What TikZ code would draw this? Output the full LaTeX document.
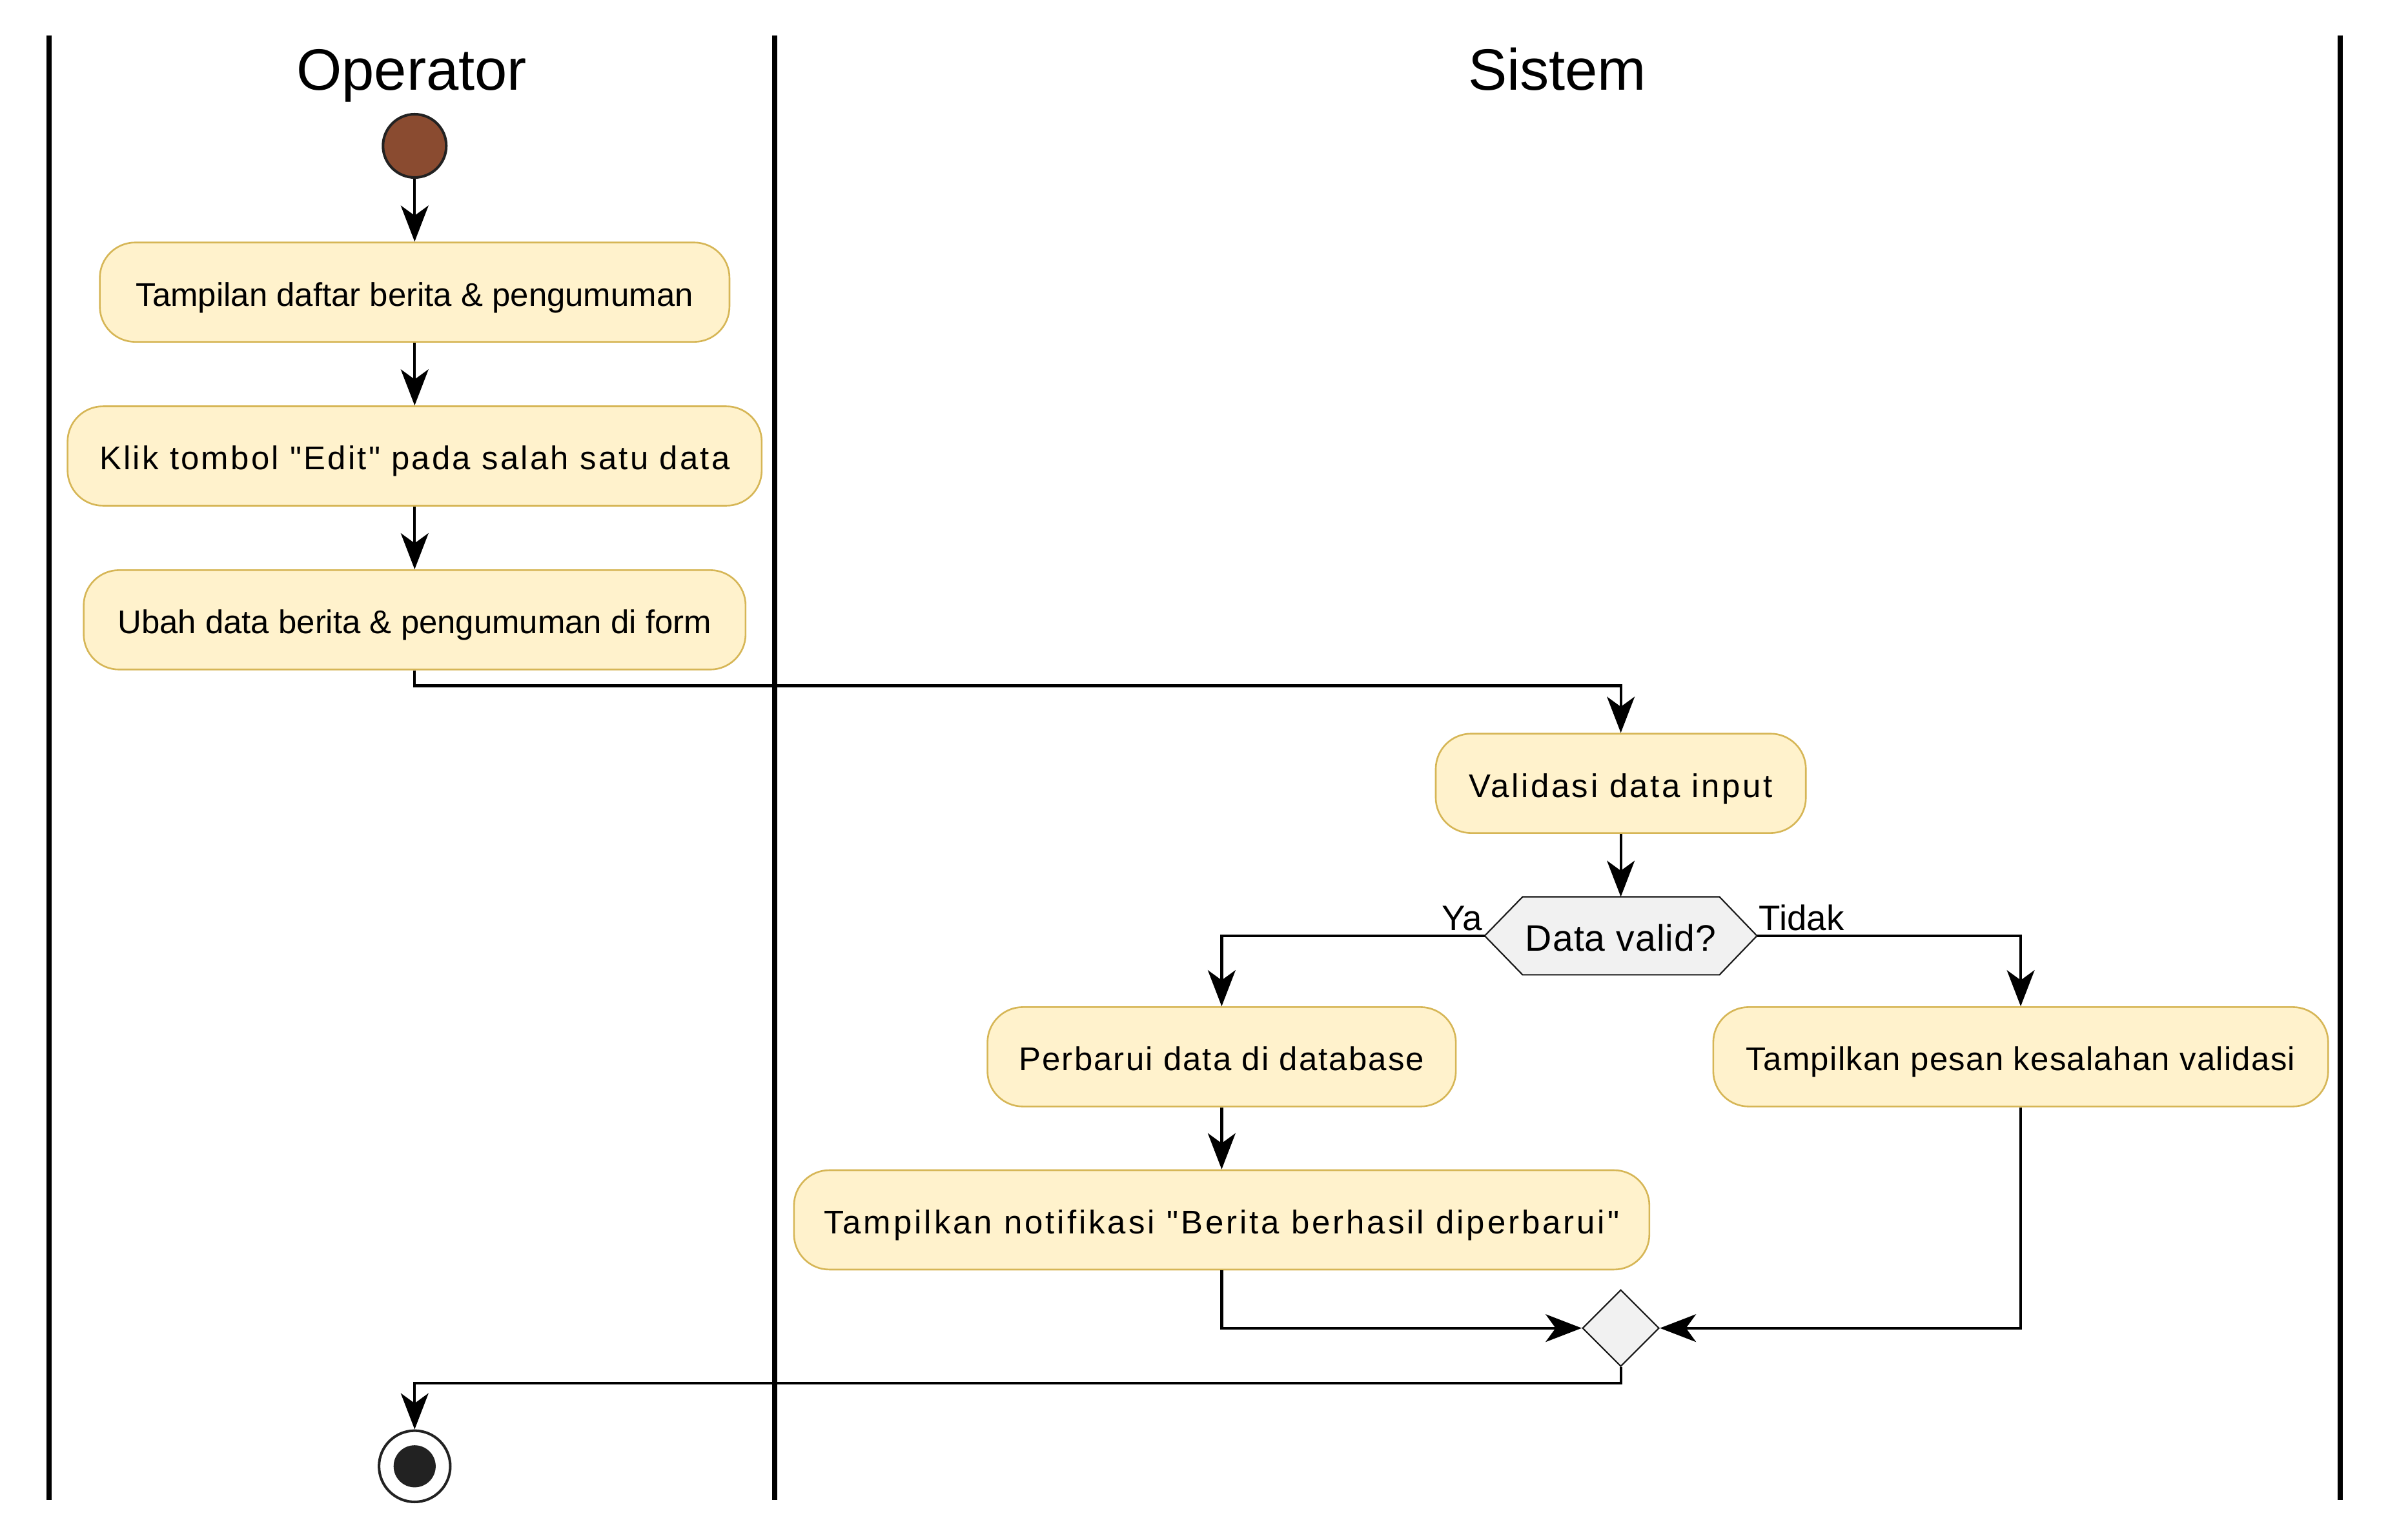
\documentclass[tikz,border=0pt]{standalone}
\usepackage{fontspec}
\setmainfont{Liberation Sans}[Ligatures=TeXOff]
\usetikzlibrary{arrows.meta,shapes.geometric}
\definecolor{actfill}{HTML}{FFF2CC}
\definecolor{actdraw}{HTML}{D6B656}
\definecolor{decfill}{HTML}{F1F1F1}
\definecolor{decdraw}{HTML}{181818}
\definecolor{startfill}{HTML}{8A4B30}
\definecolor{dark}{HTML}{222222}
\tikzset{
  act/.style={draw=actdraw, fill=actfill, line width=1.1pt, rounded corners=23pt,
    minimum height=64.7pt, inner sep=0pt, align=center, text height=18pt, text depth=0pt,
    font=\fontsize{21.4}{25}\selectfont},
  conn/.style={line width=1.8pt, -{Stealth[length=23.5pt, width=18pt, inset=6.5pt]}},
  lane/.style={line width=3.3pt},
  title/.style={font=\fontsize{38}{44}\selectfont, anchor=base},
  lbl/.style={font=\fontsize{23}{27}\selectfont},
}
\begin{document}
\begin{tikzpicture}[x=1pt,y=-1pt]
\useasboundingbox (0,0) rectangle (1568,1002.6);
% swimlanes
\draw[lane] (31.9,23) -- (31.9,977);
\draw[lane] (504.4,23) -- (504.4,977);
\draw[lane] (1523.7,23) -- (1523.7,977);
\node[title] (t1) at (268,58.5) {Operator};
\node[title] (t2) at (1014,58.5) {Sistem};
% nodes
\node[circle, draw=dark, line width=1.7pt, fill=startfill, minimum size=41.2pt, inner sep=0pt] (start) at (270,95) {};
\node[act, minimum width=410pt] (b1) at (270,190.3) {Tampilan daftar berita \& pengumuman};
\node[act, minimum width=452pt] (b2) at (270,297) {\addfontfeature{LetterSpace=6.3}Klik tombol "Edit" pada salah satu data};
\node[act, minimum width=431pt] (b3) at (270,403.7) {Ubah data berita \& pengumuman di form};
\node[act, minimum width=241pt] (b4) at (1055.4,510.2) {\addfontfeature{LetterSpace=7.1}Validasi data input};
% decision hexagon
\node[minimum width=176.9pt, minimum height=50.4pt, inner sep=0pt] (dec) at (1055.4,609.5) {};
\filldraw[fill=decfill, draw=decdraw, line width=0.9pt]
  (dec.west) -- ([xshift=24.7pt]dec.north west) -- ([xshift=-24.4pt]dec.north east)
  -- (dec.east) -- ([xshift=-24.4pt]dec.south east) -- ([xshift=24.7pt]dec.south west) -- cycle;
\node[inner sep=0pt, text height=19.5pt, text depth=0pt, font=\fontsize{24}{28}\selectfont] (dectext) at (dec) {\addfontfeature{LetterSpace=1.9}Data valid?};
\node[lbl, anchor=base east, inner sep=0pt] (ya) at (965.5,606) {Ya};
\node[lbl, anchor=base west, inner sep=0pt] (tidak) at (1145.2,606) {Tidak};
\node[act, minimum width=305pt] (b5) at (795.5,688.3) {\addfontfeature{LetterSpace=4.2}Perbarui data di database};
\node[act, minimum width=400.4pt] (b6) at (1315.8,688.3) {\addfontfeature{LetterSpace=2.5}Tampilkan pesan kesalahan validasi};
\node[act, minimum width=557pt] (b7) at (795.5,794.5) {\addfontfeature{LetterSpace=7.8}Tampilkan notifikasi "Berita berhasil diperbarui"};
\node[diamond, draw=decdraw, fill=decfill, line width=0.9pt, minimum width=50pt, minimum height=50pt, inner sep=0pt] (merge) at (1055.4,865) {};
\node[circle, draw=dark, line width=1.7pt, minimum size=46.4pt, inner sep=0pt] (stop) at (270,955) {};
\node[circle, fill=dark, minimum size=27.4pt, inner sep=0pt] (stopin) at (stop) {};
% connectors
\draw[conn] (start) -- (b1);
\draw[conn] (b1) -- (b2);
\draw[conn] (b2) -- (b3);
\draw[conn] (b3.south) -- ++(0,10) -| (b4.north);
\draw[conn] (b4) -- (dec.north);
\draw[conn] (dec.west) -| (b5.north);
\draw[conn] (dec.east) -| (b6.north);
\draw[conn] (b5) -- (b7);
\draw[conn] (b7.south) |- (merge.west);
\draw[conn] (b6.south) |- (merge.east);
\draw[conn] (merge.south) -- ++(0,10.4) -| (stop.north);
\end{tikzpicture}
\end{document}
